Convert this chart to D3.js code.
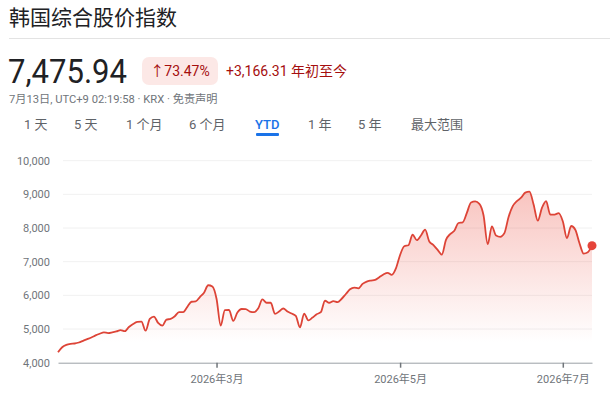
<!DOCTYPE html>
<html>
<head>
<meta charset="utf-8">
<script src="https://cdn.jsdelivr.net/npm/d3@7"></script>
<style>
  body { margin: 0; background: #fff; }
  svg { display: block; font-family: Roboto, "Noto Sans CJK SC", sans-serif; }
</style>
</head>
<body>
<div id="viz"></div>
<script>
// KOSPI closes, YTD (one value per trading day)
const closes = [
  4310, 4460, 4530, 4560, 4570, 4600, 4650, 4700, 4750, 4810,
  4860, 4900, 4880, 4900, 4930, 4970, 4935, 5060, 5150, 5210,
  5220, 4950, 5300, 5370, 5180, 5100, 5280, 5300, 5380, 5505,
  5505, 5660, 5810, 5820, 5950, 6080, 6300, 6260, 5900, 5100,
  5560, 5565, 5240, 5490, 5595, 5590, 5520, 5500, 5615, 5880,
  5780, 5780, 5450, 5520, 5610, 5520, 5460, 5390, 5050, 5460,
  5260, 5340, 5440, 5500, 5840, 5780, 5830, 5800, 5900, 6040,
  6180, 6230, 6210, 6340, 6410, 6440, 6460, 6540, 6620, 6670,
  6610, 6800, 7200, 7460, 7490, 7800, 7640, 7780, 7950, 7600,
  7495, 7350, 7210, 7650, 7820, 7920, 8150, 8170, 8450, 8760,
  8790, 8720, 8380, 7520, 8050, 7780, 7740, 7850, 8330, 8650,
  8800, 8900, 9050, 9080, 8700, 8220, 8600, 8800, 8400, 8400,
  8440, 8200, 7700, 8060, 7950, 7550, 7240, 7280, 7475.94
];
const monthTickIndex = [38, 82, 121];
const monthTickLabels = ["2026年3月", "2026年5月", "2026年7月"];
const yTicks = [4000, 5000, 6000, 7000, 8000, 9000, 10000];
const ranges = ["1天", "5天", "1个月", "6个月", "YTD", "1年", "5年", "最大范围"];
const rangeX = [24, 74, 126, 189, 255, 308, 358, 411];

const width = 610, height = 396;
const svg = d3.select("#viz").append("svg")
  .attr("width", width)
  .attr("height", height);

// --- header ---
svg.append("text")
  .attr("x", 9).attr("y", 25)
  .attr("font-size", 21).attr("fill", "#202124")
  .text("韩国综合股价指数");

svg.append("line")
  .attr("x1", 9).attr("x2", width)
  .attr("y1", 38.5).attr("y2", 38.5)
  .attr("stroke", "#e3e3e3");

svg.append("text")
  .attr("x", 8).attr("y", 83)
  .attr("font-size", 33).attr("fill", "#202124")
  .attr("textLength", 119)
  .attr("lengthAdjust", "spacingAndGlyphs")
  .text("7,475.94");

svg.append("rect")
  .attr("x", 142).attr("y", 57)
  .attr("width", 76).attr("height", 28)
  .attr("rx", 7)
  .attr("fill", "#fce8e6");

svg.append("text")
  .attr("x", 180).attr("y", 76)
  .attr("text-anchor", "middle")
  .attr("font-size", 14).attr("fill", "#a50e0e")
  .text("↑73.47%");

svg.append("text")
  .attr("x", 226).attr("y", 76)
  .attr("font-size", 14).attr("fill", "#a50e0e")
  .text("+3,166.31 年初至今");

svg.append("text")
  .attr("x", 9).attr("y", 103)
  .attr("font-size", 11.2).attr("fill", "#70757a")
  .text("7月13日, UTC+9 02:19:58 · KRX · 免责声明");

svg.append("g")
  .selectAll("text")
  .data(ranges)
  .join("text")
  .attr("x", (d, i) => rangeX[i])
  .attr("y", 129)
  .attr("font-size", 13)
  .attr("font-weight", d => d === "YTD" ? 500 : 400)
  .attr("fill", d => d === "YTD" ? "#1a73e8" : "#5f6368")
  .text(d => d.replace(/^(\d)/, "$1 "));

svg.append("rect")
  .attr("x", 256).attr("y", 133)
  .attr("width", 23).attr("height", 3)
  .attr("rx", 1)
  .attr("fill", "#1a73e8");

// --- chart ---
const x = d3.scaleLinear().domain([0, closes.length - 1]).range([58, 592]);
const y = d3.scaleLinear().domain([4000, 10000]).range([362.7, 160.7]);

const defs = svg.append("defs");
const grad = defs.append("linearGradient")
  .attr("id", "fillGrad")
  .attr("gradientUnits", "userSpaceOnUse")
  .attr("x1", 0).attr("x2", 0)
  .attr("y1", y(9200)).attr("y2", y(4600));
grad.append("stop").attr("offset", 0).attr("stop-color", "#ea4335").attr("stop-opacity", 0.32);
grad.append("stop").attr("offset", 1).attr("stop-color", "#ea4335").attr("stop-opacity", 0);

// grid
svg.append("g")
  .selectAll("line")
  .data(yTicks.slice(1))
  .join("line")
  .attr("x1", 63).attr("x2", 592)
  .attr("y1", d => y(d)).attr("y2", d => y(d))
  .attr("stroke", "#f1f1f1");

// y labels
svg.append("g")
  .selectAll("text")
  .data(yTicks)
  .join("text")
  .attr("x", 50)
  .attr("y", d => y(d))
  .attr("dy", "0.35em")
  .attr("text-anchor", "end")
  .attr("font-size", 11)
  .attr("fill", "#70757a")
  .text(d => d3.format(",")(d));

const curve = d3.curveMonotoneX;

svg.append("path")
  .datum(closes)
  .attr("fill", "url(#fillGrad)")
  .attr("d", d3.area().x((d, i) => x(i)).y0(y(4000)).y1(d => y(d)).curve(curve));

// x axis
const xAxis = d3.axisBottom(x)
  .tickValues(monthTickIndex)
  .tickFormat((d, i) => monthTickLabels[i])
  .tickSize(5)
  .tickSizeOuter(0);

const gx = svg.append("g")
  .attr("transform", `translate(0,${y(4000)})`)
  .call(xAxis);
gx.select(".domain").attr("stroke", "#9aa0a6");
gx.selectAll(".tick line").attr("stroke", "#70757a").attr("stroke-width", 1.5);
gx.selectAll(".tick text")
  .attr("font-family", "Roboto, 'Noto Sans CJK SC', sans-serif")
  .attr("font-size", 11)
  .attr("fill", "#70757a")
  .attr("dy", "1.1em");

svg.append("path")
  .datum(closes)
  .attr("fill", "none")
  .attr("stroke", "#dd4437")
  .attr("stroke-width", 1.8)
  .attr("stroke-linejoin", "round")
  .attr("d", d3.line().x((d, i) => x(i)).y(d => y(d)).curve(curve));

svg.append("circle")
  .attr("cx", x(closes.length - 1))
  .attr("cy", y(closes[closes.length - 1]))
  .attr("r", 4.5)
  .attr("fill", "#e5443a");
</script>
</body>
</html>
